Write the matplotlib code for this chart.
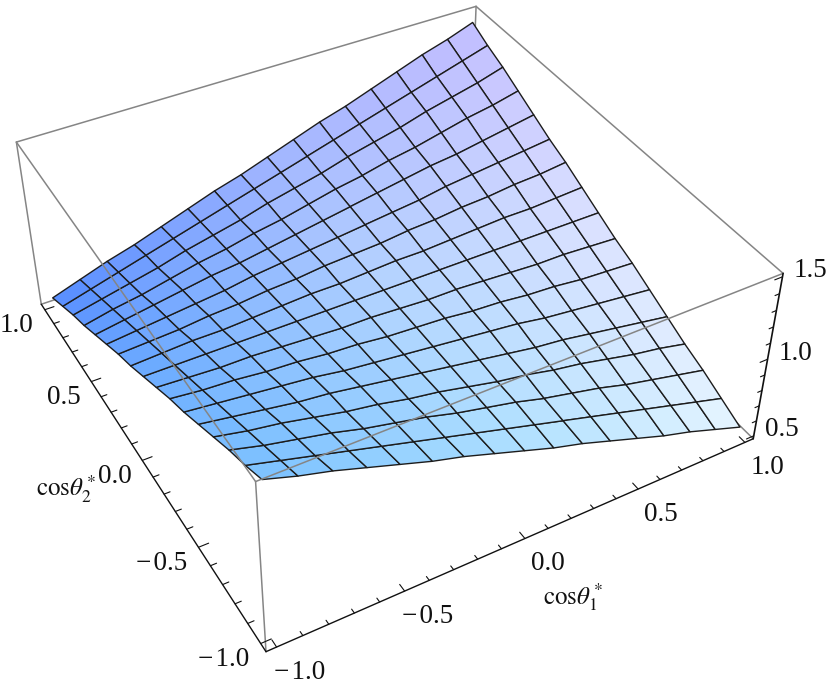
import numpy as np
import matplotlib
matplotlib.use("Agg")
from matplotlib import pyplot as plt
from mpl_toolkits.mplot3d.art3d import Line3DCollection

plt.rcParams['font.family'] = ['Liberation Serif', 'DejaVu Serif']
plt.rcParams['mathtext.fontset'] = 'stix'

# grid of the surface
cos1 = [-1.0, -0.875, -0.75, -0.625, -0.5, -0.375, -0.25, -0.125, 0.0,
        0.125, 0.25, 0.375, 0.5, 0.625, 0.75, 0.875, 1.0]
cos2 = [-1.0, -0.875, -0.75, -0.625, -0.5, -0.375, -0.25, -0.125, 0.0,
        0.125, 0.25, 0.375, 0.5, 0.625, 0.75, 0.875, 1.0]

# height, one row per cos2 value
height = [
    [1.46, 1.40, 1.35, 1.29, 1.23, 1.17, 1.12, 1.06, 1.00, 0.94, 0.89, 0.83, 0.77, 0.71, 0.66, 0.60, 0.54],
    [1.40, 1.35, 1.30, 1.25, 1.20, 1.15, 1.10, 1.05, 1.00, 0.95, 0.90, 0.85, 0.80, 0.75, 0.70, 0.65, 0.60],
    [1.35, 1.30, 1.26, 1.22, 1.17, 1.13, 1.09, 1.04, 1.00, 0.96, 0.91, 0.87, 0.83, 0.78, 0.74, 0.70, 0.66],
    [1.29, 1.25, 1.22, 1.18, 1.14, 1.11, 1.07, 1.04, 1.00, 0.96, 0.93, 0.89, 0.86, 0.82, 0.78, 0.75, 0.71],
    [1.23, 1.20, 1.17, 1.14, 1.12, 1.09, 1.06, 1.03, 1.00, 0.97, 0.94, 0.91, 0.89, 0.86, 0.83, 0.80, 0.77],
    [1.17, 1.15, 1.13, 1.11, 1.09, 1.06, 1.04, 1.02, 1.00, 0.98, 0.96, 0.94, 0.91, 0.89, 0.87, 0.85, 0.83],
    [1.12, 1.10, 1.09, 1.07, 1.06, 1.04, 1.03, 1.01, 1.00, 0.99, 0.97, 0.96, 0.94, 0.93, 0.91, 0.90, 0.89],
    [1.06, 1.05, 1.04, 1.04, 1.03, 1.02, 1.01, 1.01, 1.00, 0.99, 0.99, 0.98, 0.97, 0.96, 0.96, 0.95, 0.94],
    [1.00, 1.00, 1.00, 1.00, 1.00, 1.00, 1.00, 1.00, 1.00, 1.00, 1.00, 1.00, 1.00, 1.00, 1.00, 1.00, 1.00],
    [0.94, 0.95, 0.96, 0.96, 0.97, 0.98, 0.99, 0.99, 1.00, 1.01, 1.01, 1.02, 1.03, 1.04, 1.04, 1.05, 1.06],
    [0.89, 0.90, 0.91, 0.93, 0.94, 0.96, 0.97, 0.99, 1.00, 1.01, 1.03, 1.04, 1.06, 1.07, 1.09, 1.10, 1.12],
    [0.83, 0.85, 0.87, 0.89, 0.91, 0.94, 0.96, 0.98, 1.00, 1.02, 1.04, 1.06, 1.09, 1.11, 1.13, 1.15, 1.17],
    [0.77, 0.80, 0.83, 0.86, 0.89, 0.91, 0.94, 0.97, 1.00, 1.03, 1.06, 1.09, 1.12, 1.14, 1.17, 1.20, 1.23],
    [0.71, 0.75, 0.78, 0.82, 0.86, 0.89, 0.93, 0.96, 1.00, 1.04, 1.07, 1.11, 1.14, 1.18, 1.22, 1.25, 1.29],
    [0.66, 0.70, 0.74, 0.78, 0.83, 0.87, 0.91, 0.96, 1.00, 1.04, 1.09, 1.13, 1.17, 1.22, 1.26, 1.30, 1.35],
    [0.60, 0.65, 0.70, 0.75, 0.80, 0.85, 0.90, 0.95, 1.00, 1.05, 1.10, 1.15, 1.20, 1.25, 1.30, 1.35, 1.40],
    [0.54, 0.60, 0.66, 0.71, 0.77, 0.83, 0.89, 0.94, 1.00, 1.06, 1.12, 1.17, 1.23, 1.29, 1.35, 1.40, 1.46],
]

x_ticks = [-1.0, -0.5, 0.0, 0.5, 1.0]
y_ticks = [-1.0, -0.5, 0.0, 0.5, 1.0]
z_ticks = [0.5, 1.0, 1.5]
x_labels = ['\u2212\u200a1.0', '\u2212\u200a0.5', '0.0', '0.5', '1.0']
y_labels = ['\u2212\u200a1.0', '\u2212\u200a0.5', '0.0', '0.5', '1.0']
z_labels = ['0.5', '1.0', '1.5']

# box limits, the plot range has a small padding
bx = 1.04
bz0, bz1 = 0.48, 1.52

W, H = 830, 692

# camera: pixel position of known 3d points, solved for a projection matrix
calib = [
    ((-bx, -bx, bz0), (266, 652)), ((bx, -bx, bz0), (753, 442)),
    ((-bx, bx, bz0), (42, 307)), ((-bx, -bx, bz1), (255, 478)),
    ((bx, -bx, bz1), (783, 273)), ((-bx, bx, bz1), (16, 143)),
    ((bx, bx, bz1), (476, 4)), ((1, 1, 1.46), (473, 25)),
    ((-1, 1, 0.54), (52, 294)), ((1, -1, 0.54), (740, 424)),
    ((-1, -1, 1.46), (263, 483)),
]
A, b = [], []
for (X, Y, Z), (u, v) in calib:
    A.append([X, Y, Z, 1, 0, 0, 0, 0, -u*X, -u*Y, -u*Z])
    A.append([0, 0, 0, 0, X, Y, Z, 1, -v*X, -v*Y, -v*Z])
    b += [u, v]
p = np.linalg.lstsq(np.array(A, float), np.array(b, float), rcond=None)[0]
M = np.array([[p[0], p[1], p[2], p[3]],
              [p[4], p[5], p[6], p[7]],
              [0, 0, 1, 0],
              [p[8], p[9], p[10], 1.0]])


def project(X, Y, Z):
    q = M.dot([X, Y, Z, 1])
    return q[0]/q[3], q[1]/q[3]


# colour of the facets, from a coarse table over the square
col_table = np.array([
    [[125, 195, 255], [175, 225, 255], [230, 245, 255]],
    [[105, 170, 255], [180, 212, 255], [220, 225, 255]],
    [[85, 140, 255], [160, 180, 255], [195, 190, 255]],
]) / 255.0


def facet_colors():
    out = np.ones((16, 16, 4))
    cx = (np.array(cos1[:-1]) + np.array(cos1[1:])) / 2
    cy = (np.array(cos2[:-1]) + np.array(cos2[1:])) / 2
    for j in range(16):
        for i in range(16):
            for c in range(3):
                row = [np.interp(cx[i], [-1, 0, 1], col_table[k, :, c]) for k in range(3)]
                out[j, i, c] = np.interp(cy[j], [-1, 0, 1], row)
    return out


fig = plt.figure(figsize=(W/100, H/100), dpi=100)
ax = fig.add_axes([0, 0, 1, 1], projection='3d')
ax.set_axis_off()
ax.computed_zorder = False
ax.apply_aspect = lambda position=None: None
ax.get_proj = lambda: M

box_grey = '#858585'
axis_col = '#111111'


def edges(segs, color, lw, zorder):
    lc = Line3DCollection(segs, colors=color, linewidths=lw, zorder=zorder, capstyle='round')
    ax.add_collection3d(lc, autolim=False)


# hidden part of the box, behind the surface
edges([[(-bx, bx, bz0), (bx, bx, bz0)],
       [(bx, -bx, bz0), (bx, bx, bz0)],
       [(bx, bx, bz0), (bx, bx, bz1)],
       [(-bx, bx, bz0), (-bx, bx, bz1)],
       [(-bx, bx, bz1), (bx, bx, bz1)],
       [(bx, bx, bz1), (bx, -bx, bz1)],
       [(-bx, -bx, bz0), (-bx, -bx, bz1)]], box_grey, 1.1, 1)

xx, yy = np.meshgrid(cos1, cos2)
ax.plot_surface(xx, yy, np.array(height), rstride=1, cstride=1, facecolors=facet_colors(),
                shade=False, edgecolor='#1c1c1c', linewidth=1.0, antialiased=True, zorder=2)

# edges that pass in front of the surface
edges([[(-bx, bx, bz1), (-bx, -bx, bz1)],
       [(-bx, -bx, bz1), (bx, -bx, bz1)]], box_grey, 1.1, 3)

# axes with ticks
edges([[(-bx, -bx, bz0), (bx, -bx, bz0)],
       [(-bx, -bx, bz0), (-bx, bx, bz0)]], axis_col, 1.0, 4)
edges([[(bx, -bx, bz0), (bx, -bx, bz1)]], axis_col, 1.2, 4)

tick_segs = []
for t in np.arange(-10, 11):
    v = t / 10.0
    major = t % 5 == 0
    tick_segs.append([(v, -bx, bz0), (v, -bx + (0.035 if major else 0.02), bz0)])
    tick_segs.append([(-bx, v, bz0), (-bx + (0.04 if major else 0.024), v, bz0)])
for t in np.arange(5, 16):
    v = t / 10.0
    major = t % 5 == 0
    tick_segs.append([(bx, -bx, v), (bx - (0.035 if major else 0.02), -bx, v)])
edges(tick_segs, axis_col, 0.8, 4)

font_size = 19.5
for v, s in zip(x_ticks, x_labels):
    u0, v0 = project(v, -bx, bz0)
    ax.annotate(s, (u0 + 23, v0 + 25), ha='center', va='center', fontsize=font_size, color='#111111')
for v, s in zip(y_ticks, y_labels):
    u0, v0 = project(-bx, v, bz0)
    ax.annotate(s, (u0 - 11, v0 + 16), ha='right', va='center', fontsize=font_size, color='#111111')
for v, s in zip(z_ticks, z_labels):
    u0, v0 = project(bx, -bx, v)
    ax.annotate(s, (u0 + 11, v0 - 6), ha='left', va='center', fontsize=font_size, color='#111111')

ax.annotate(r'$\mathrm{cos}\theta_1^*$', (573, 597), ha='center', va='center',
            fontsize=18, color='#111111')
ax.annotate(r'$\mathrm{cos}\theta_2^*$', (66, 489), ha='center', va='center',
            fontsize=18, color='#111111')

ax.viewLim.intervalx = (0, W)
ax.viewLim.intervaly = (H, 0)

fig.savefig("out.png", dpi=100)
